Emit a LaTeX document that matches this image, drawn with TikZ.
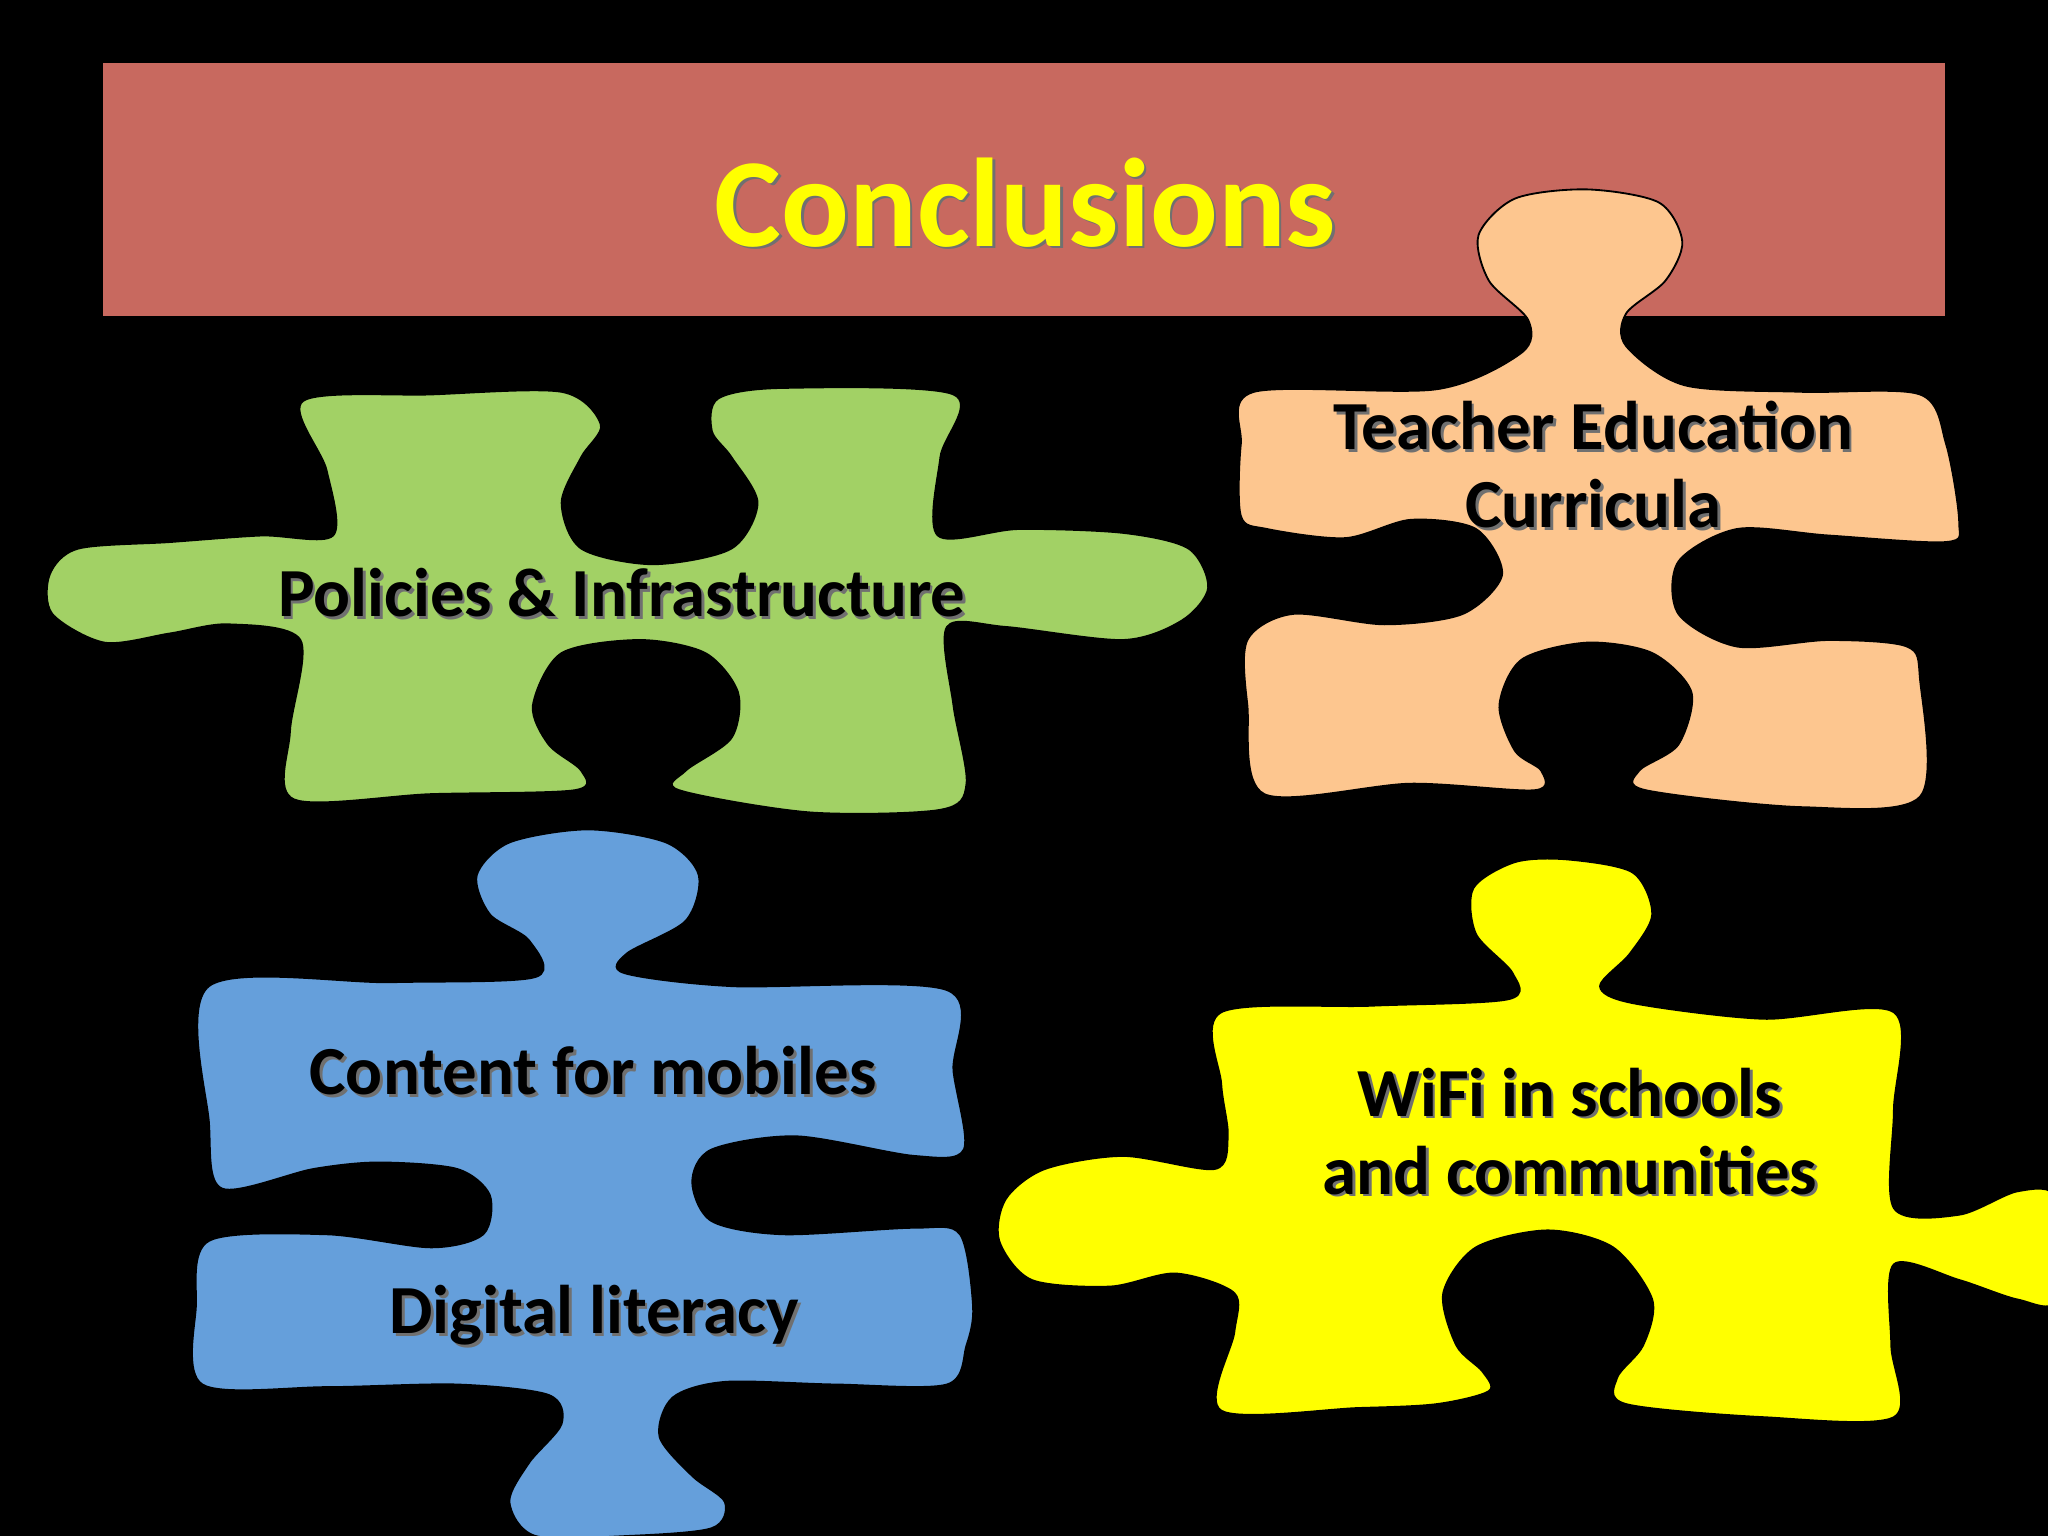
\documentclass[tikz,border=0pt]{standalone}
\usepackage{fontspec}
\setmainfont{Carlito}
\definecolor{titlered}{HTML}{C8695F}
\definecolor{pgreen}{HTML}{A2D165}
\definecolor{porange}{HTML}{FDC68F}
\definecolor{pblue}{HTML}{659FDB}
\definecolor{pyellow}{HTML}{FFFF00}
\definecolor{shade}{HTML}{707070}
\begin{document}
\begin{tikzpicture}[x=0.02cm,y=-0.02cm,
  piece/.style={draw=black,line width=0.8pt},
  lbl/.style={font=\bfseries\fontsize{30}{34}\selectfont,align=center,text=black},
  lblsh/.style={font=\bfseries\fontsize{30}{34}\selectfont,align=center,text=shade}]
\fill[black] (0,0) rectangle (1568,1176);
\useasboundingbox (0,0) rectangle (1568,1176);
\fill[titlered] (79,48) rectangle (1489,242);
\node[font=\bfseries\fontsize{55}{60}\selectfont,text=shade] at (787,157) {Conclusions};
\node (title) [font=\bfseries\fontsize{55}{60}\selectfont,text=pyellow] at (785,155) {Conclusions};
% green
\filldraw[piece,fill=pgreen] plot[smooth cycle,tension=0.5] coordinates {(232,307) (330,302) (430,300) (460,325) (445,350) (430,385) (445,420) (500,432) (560,420) (580,385) (560,350) (545,330) (550,305) (600,297) (730,302) (720,350) (718,410) (780,405) (860,408) (910,420) (925,450) (905,475) (860,490) (770,480) (725,480) (730,540) (740,600) (720,620) (620,622) (520,605) (525,590) (560,565) (565,530) (540,500) (490,490) (430,500) (408,540) (420,570) (445,590) (440,605) (330,608) (225,612) (222,560) (230,490) (175,478) (130,485) (80,492) (40,470) (38,440) (60,420) (130,415) (200,410) (255,410) (250,360)};
% orange
\filldraw[piece,fill=porange] plot[smooth cycle,tension=0.5] coordinates {(960,300) (1100,298) (1165,270) (1170,245) (1140,215) (1132,180) (1160,152) (1215,145) (1270,155) (1288,185) (1275,215) (1245,240) (1245,265) (1290,295) (1380,300) (1470,302) (1490,340) (1500,400) (1490,415) (1400,410) (1330,405) (1285,430) (1285,470) (1330,495) (1400,490) (1460,495) (1470,520) (1470,610) (1380,618) (1260,605) (1255,590) (1285,570) (1295,530) (1265,500) (1215,492) (1165,505) (1148,540) (1160,575) (1180,590) (1175,605) (1080,600) (968,608) (955,540) (955,490) (990,470) (1060,478) (1120,470) (1150,440) (1130,405) (1080,398) (1030,412) (970,405) (950,395) (950,340)};
% blue
\filldraw[piece,fill=pblue] plot[smooth cycle,tension=0.5] coordinates {(160,755) (300,752) (410,748) (405,720) (375,700) (365,670) (390,645) (450,635) (510,645) (535,670) (525,705) (480,730) (478,745) (560,755) (725,758) (730,820) (738,880) (700,885) (610,870) (545,880) (530,905) (545,935) (600,945) (700,940) (735,945) (745,1000) (740,1030) (725,1060) (640,1060) (555,1058) (515,1070) (505,1100) (530,1130) (555,1150) (545,1170) (480,1176) (410,1176) (390,1150) (405,1120) (430,1090) (420,1068) (350,1060) (250,1062) (155,1060) (150,1000) (160,950) (250,945) (330,955) (370,945) (375,915) (350,895) (290,890) (240,895) (170,910) (160,860)};
% yellow
\filldraw[piece,fill=pyellow] plot[smooth cycle,tension=0.5] coordinates {(935,775) (1050,770) (1155,765) (1158,745) (1130,715) (1128,680) (1160,660) (1200,658) (1250,668) (1265,700) (1248,730) (1225,755) (1250,768) (1350,780) (1450,775) (1450,850) (1450,925) (1500,930) (1545,912) (1575,918) (1575,995) (1545,995) (1500,980) (1450,968) (1448,1030) (1450,1085) (1350,1085) (1245,1075) (1238,1055) (1258,1030) (1265,995) (1235,955) (1185,942) (1130,955) (1105,990) (1115,1030) (1135,1050) (1140,1065) (1100,1075) (1040,1078) (935,1080) (945,1020) (945,990) (900,975) (850,985) (790,980) (765,950) (770,918) (800,895) (860,885) (930,895) (940,870) (935,830)};
% labels
\node[lblsh] at (478,456) {Policies \& Infrastructure};
\node (policies) [lbl] at (476,454) {Policies \& Infrastructure};
\node[lblsh] at (1222,358) {Teacher Education\\Curricula};
\node (teacher) [lbl] at (1220,356) {Teacher Education\\Curricula};
\node[lblsh] at (456,822) {Content for mobiles};
\node (content) [lbl] at (454,820) {Content for mobiles};
\node[lblsh] at (457,1009) {Digital literacy};
\node (digital) [lbl] at (455,1007) {Digital literacy};
\node[lblsh] at (1204,868) {WiFi in schools\\and communities};
\node (wifi) [lbl] at (1202,866) {WiFi in schools\\and communities};
\end{tikzpicture}
\end{document}
